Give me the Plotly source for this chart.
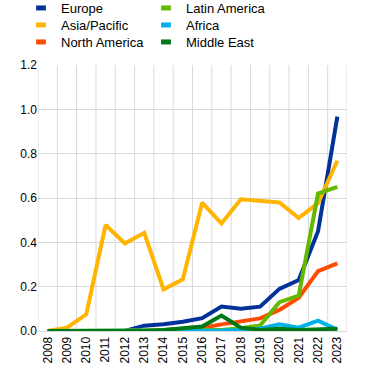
import plotly.graph_objects as go

years = list(range(2008, 2024))
year_labels = [str(y) for y in years]
europe = [0, 0, 0, 0, 0, 0.024, 0.03, 0.042, 0.058, 0.11, 0.10, 0.11, 0.19, 0.23, 0.45, 0.967]
asia_pacific = [0, 0.015, 0.075, 0.478, 0.395, 0.443, 0.188, 0.233, 0.579, 0.485, 0.594, 0.585, 0.58, 0.51, 0.577, 0.768]
north_america = [0, 0, 0, 0, 0, 0, 0.005, 0.01, 0.015, 0.03, 0.045, 0.057, 0.095, 0.15, 0.27, 0.305]
latin_america = [0, 0, 0, 0, 0, 0, 0.003, 0.004, 0.005, 0.005, 0.012, 0.025, 0.13, 0.16, 0.62, 0.65]
africa = [0, 0, 0, 0, 0, 0, 0, 0, 0, 0.002, 0.005, 0.01, 0.03, 0.015, 0.047, 0.005]
middle_east = [0, 0, 0, 0, 0, 0, 0.005, 0.012, 0.02, 0.07, 0.015, 0.005, 0.01, 0.005, 0.008, 0.01]

names = ["Europe", "Asia/Pacific", "North America", "Latin America", "Africa", "Middle East"]
values = [europe, asia_pacific, north_america, latin_america, africa, middle_east]
colors = ["#003299", "#FFB400", "#FF4B00", "#65B800", "#00B1EA", "#007816"]

# plot area in pixels
L, R, T, B = 38, 25, 65, 42
W, H = 372, 373
pw, ph = W - L - R, H - T - B

fig = go.Figure()
for name, vals, color in zip(names, values, colors):
    fig.add_trace(go.Scatter(x=years, y=vals, mode="lines", name=name,
                             line=dict(color=color, width=4), showlegend=False,
                             hoverinfo="skip"))

legend_font = dict(family="Liberation Sans, Arial, sans-serif", size=13, color="#000000")
legend_layout = {}
col_x = [21, 146]
row_top = [-7, 10, 27]
for i, (name, color) in enumerate(zip(names, colors)):
    key = "legend" if i == 0 else f"legend{i+1}"
    fig.add_trace(go.Scatter(x=[None], y=[None], mode="markers", name=name,
                             marker=dict(symbol="line-ew", size=7, color=color,
                                         line=dict(color=color, width=5)),
                             legend=key, showlegend=True))
    cx = col_x[i // 3]
    ry = row_top[i % 3]
    legend_layout[key] = dict(x=(cx - L) / pw, y=(H - B - ry) / ph, xanchor="left", yanchor="top",
                              font=legend_font, bgcolor="rgba(0,0,0,0)", itemwidth=30)

font = dict(family="Liberation Sans, Arial, sans-serif", size=12, color="#000000")

# vertical gridlines between the year categories
for y in years + [years[-1] + 1]:
    fig.add_vline(x=y - 0.5, line=dict(color="#D9D9D9", width=1), layer="below")

fig.update_layout(
    width=W, height=H,
    margin=dict(l=L, r=R, t=T, b=B, autoexpand=False),
    paper_bgcolor="white", plot_bgcolor="white",
    font=font,
    xaxis=dict(range=[years[0] - 0.5, years[-1] + 0.5], tickvals=years, ticktext=year_labels,
               showgrid=False, tickangle=-90, ticks="", showline=True, linecolor="#D9D9D9",
               zeroline=False, tickfont=font, fixedrange=True),
    yaxis=dict(range=[0, 1.2], dtick=0.2, tickformat=".1f", showgrid=True, gridcolor="#D9D9D9",
               gridwidth=1, zeroline=False, ticks="", tickfont=font, fixedrange=True),
    **legend_layout,
)

fig.write_html("out.html", config={"displayModeBar": False},
               post_script="document.body.style.margin='0';document.body.style.padding='0';document.body.style.overflow='hidden';")
